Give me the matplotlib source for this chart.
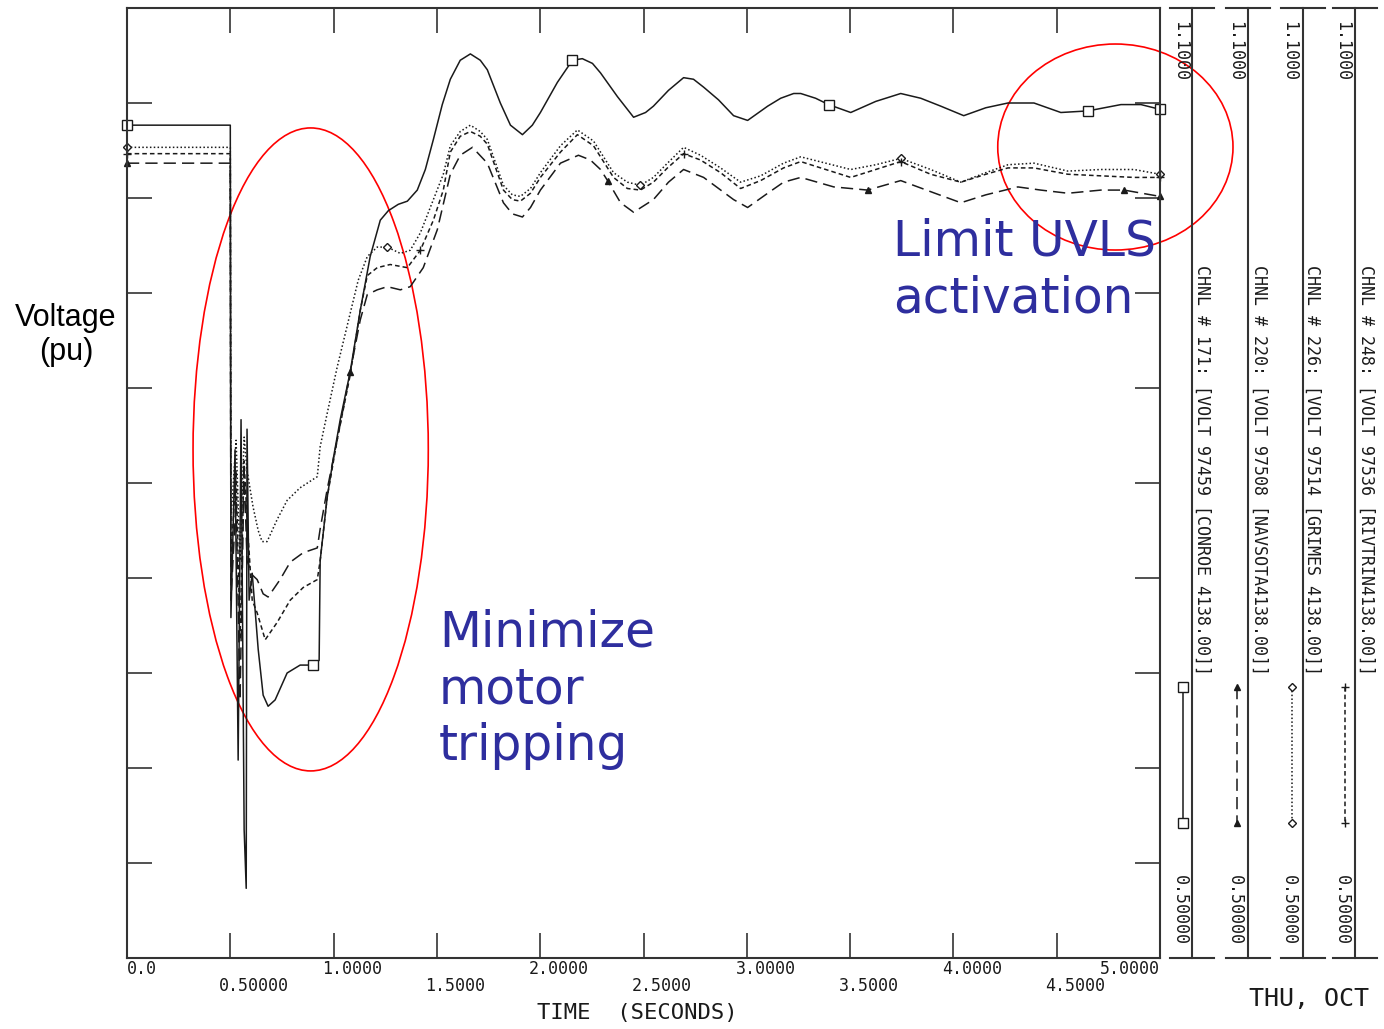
import numpy as np
import matplotlib
matplotlib.use('Agg')
from matplotlib import pyplot as plt
from matplotlib.patches import Ellipse

# CHNL 171 - CONROE (solid, squares)
t_conroe = [0.000, 0.500, 0.503, 0.523, 0.538, 0.552, 0.567, 0.577, 0.581, 0.591,
            0.606, 0.635, 0.659, 0.683, 0.717, 0.775, 0.838, 0.901, 0.930, 0.935,
            0.969, 0.998, 1.032, 1.080, 1.129, 1.177, 1.226, 1.265, 1.313, 1.357,
            1.405, 1.444, 1.483, 1.526, 1.565, 1.613, 1.662, 1.710, 1.744, 1.807,
            1.856, 1.914, 1.962, 2.001, 2.083, 2.156, 2.204, 2.253, 2.292, 2.374,
            2.452, 2.510, 2.548, 2.621, 2.694, 2.742, 2.791, 2.863, 2.936, 3.004,
            3.101, 3.164, 3.227, 3.261, 3.333, 3.396, 3.503, 3.624, 3.745, 3.842,
            3.939, 4.050, 4.157, 4.264, 4.390, 4.520, 4.651, 4.811, 4.908, 5.000]
v_conroe = [1.026, 1.026, 0.715, 0.821, 0.625, 0.840, 0.581, 0.544, 0.834, 0.726,
            0.743, 0.695, 0.666, 0.659, 0.663, 0.680, 0.685, 0.685, 0.688, 0.751,
            0.791, 0.815, 0.840, 0.870, 0.909, 0.943, 0.966, 0.972, 0.976, 0.978,
            0.985, 0.998, 1.017, 1.039, 1.055, 1.067, 1.071, 1.067, 1.061, 1.040,
            1.026, 1.020, 1.026, 1.034, 1.053, 1.067, 1.068, 1.065, 1.059, 1.044,
            1.031, 1.034, 1.038, 1.048, 1.056, 1.055, 1.050, 1.042, 1.032, 1.029,
            1.038, 1.043, 1.046, 1.046, 1.043, 1.039, 1.034, 1.041, 1.046, 1.043,
            1.038, 1.032, 1.037, 1.040, 1.040, 1.034, 1.035, 1.039, 1.039, 1.036]
mark_conroe = [0.0, 0.901, 2.156, 3.396, 4.651, 5.0]

# CHNL 220 - NAVSOTA (long dash, triangles)
t_navsota = [0.000, 0.500, 0.503, 0.528, 0.547, 0.567, 0.581, 0.606, 0.630, 0.659,
             0.683, 0.741, 0.790, 0.853, 0.921, 0.935, 0.969, 1.017, 1.080, 1.129,
             1.163, 1.211, 1.260, 1.323, 1.371, 1.434, 1.502, 1.565, 1.613, 1.672,
             1.744, 1.822, 1.865, 1.914, 1.953, 2.001, 2.098, 2.185, 2.243, 2.292,
             2.326, 2.389, 2.452, 2.548, 2.621, 2.694, 2.791, 2.936, 3.004, 3.101,
             3.178, 3.261, 3.421, 3.585, 3.745, 3.890, 4.036, 4.157, 4.312, 4.423,
             4.554, 4.714, 4.826, 5.000]
v_navsota = [1.002, 1.002, 0.726, 0.789, 0.663, 0.808, 0.751, 0.742, 0.739, 0.730,
             0.728, 0.739, 0.750, 0.756, 0.759, 0.771, 0.796, 0.827, 0.870, 0.903,
             0.919, 0.922, 0.924, 0.922, 0.924, 0.936, 0.960, 0.995, 1.007, 1.012,
             1.002, 0.977, 0.970, 0.968, 0.974, 0.985, 1.002, 1.007, 1.004, 0.998,
             0.991, 0.977, 0.971, 0.979, 0.990, 0.998, 0.993, 0.979, 0.974, 0.983,
             0.990, 0.993, 0.987, 0.985, 0.991, 0.984, 0.977, 0.982, 0.987, 0.985,
             0.983, 0.985, 0.985, 0.981]
mark_navsota = [0.0, 1.080, 2.326, 3.585, 4.826, 5.0]

# CHNL 226 - GRIMES (dotted, diamonds)
t_grimes = [0.000, 0.500, 0.503, 0.528, 0.547, 0.567, 0.581, 0.610, 0.635, 0.654,
            0.678, 0.727, 0.775, 0.838, 0.921, 0.935, 0.969, 1.017, 1.080, 1.119,
            1.163, 1.211, 1.260, 1.323, 1.371, 1.420, 1.483, 1.531, 1.565, 1.613,
            1.662, 1.710, 1.744, 1.822, 1.865, 1.904, 1.953, 2.001, 2.098, 2.180,
            2.258, 2.355, 2.422, 2.485, 2.548, 2.616, 2.694, 2.776, 2.873, 2.970,
            3.067, 3.178, 3.261, 3.382, 3.503, 3.624, 3.745, 3.890, 4.036, 4.157,
            4.264, 4.390, 4.554, 4.714, 4.874, 5.000]
v_grimes = [1.012, 1.012, 0.777, 0.827, 0.751, 0.829, 0.808, 0.785, 0.770, 0.763,
            0.763, 0.777, 0.789, 0.797, 0.804, 0.823, 0.844, 0.873, 0.907, 0.928,
            0.943, 0.949, 0.949, 0.945, 0.947, 0.958, 0.979, 0.995, 1.013, 1.022,
            1.026, 1.022, 1.017, 0.988, 0.982, 0.981, 0.986, 0.996, 1.013, 1.023,
            1.016, 0.996, 0.990, 0.988, 0.993, 1.002, 1.012, 1.007, 0.999, 0.990,
            0.994, 1.002, 1.006, 1.002, 0.998, 1.001, 1.005, 0.998, 0.990, 0.996,
            1.001, 1.002, 0.997, 0.998, 0.998, 0.995]
mark_grimes = [0.0, 1.260, 2.485, 3.745, 5.0]

# CHNL 248 - RIVTRIN (short dash, plus)
t_rivtrin = [0.000, 0.500, 0.503, 0.528, 0.547, 0.567, 0.581, 0.606, 0.630, 0.669,
             0.727, 0.790, 0.853, 0.921, 0.935, 0.969, 1.017, 1.080, 1.129, 1.163,
             1.211, 1.274, 1.357, 1.420, 1.483, 1.531, 1.565, 1.613, 1.662, 1.710,
             1.744, 1.822, 1.865, 1.904, 1.953, 2.001, 2.098, 2.180, 2.258, 2.355,
             2.422, 2.485, 2.548, 2.616, 2.694, 2.776, 2.873, 2.970, 3.067, 3.178,
             3.261, 3.382, 3.503, 3.624, 3.745, 3.890, 4.036, 4.157, 4.264, 4.390,
             4.554, 4.714, 4.874, 5.000]
v_rivtrin = [1.008, 1.008, 0.751, 0.808, 0.701, 0.814, 0.777, 0.726, 0.718, 0.701,
             0.712, 0.726, 0.734, 0.739, 0.751, 0.791, 0.827, 0.868, 0.909, 0.931,
             0.936, 0.938, 0.936, 0.947, 0.966, 0.985, 1.009, 1.019, 1.022, 1.019,
             1.014, 0.985, 0.979, 0.978, 0.983, 0.993, 1.009, 1.020, 1.013, 0.993,
             0.986, 0.985, 0.990, 0.999, 1.008, 1.004, 0.996, 0.986, 0.991, 0.999,
             1.003, 0.998, 0.993, 0.998, 1.003, 0.995, 0.990, 0.995, 0.999, 0.999,
             0.995, 0.994, 0.993, 0.993]
mark_rivtrin = [0.0, 1.420, 2.694, 3.745, 5.0]

channels = ['CHNL # 171: [VOLT 97459 [CONROE 4138.00]]',
            'CHNL # 220: [VOLT 97508 [NAVSOTA4138.00]]',
            'CHNL # 226: [VOLT 97514 [GRIMES 4138.00]]',
            'CHNL # 248: [VOLT 97536 [RIVTRIN4138.00]]']
xtick_vals = [0.0, 0.5, 1.0, 1.5, 2.0, 2.5, 3.0, 3.5, 4.0, 4.5, 5.0]
xtick_text = ['0.0', '0.50000', '1.0000', '1.5000', '2.0000', '2.5000',
              '3.0000', '3.5000', '4.0000', '4.5000', '5.0000']
ytick_vals = [0.56, 0.62, 0.68, 0.74, 0.80, 0.86, 0.92, 0.98, 1.04]

INK = '#1a1a1a'
BLUE = '#2e2e9e'
MONO = 'DejaVu Sans Mono'


def marks(t, at):
    t = np.array(t)
    return [int(np.argmin(np.abs(t - m))) for m in at]


def execute():
    fig = plt.figure(figsize=(13.84, 10.29), dpi=100)
    ax = fig.add_axes([127 / 1384, 71 / 1029, 1033 / 1384, 950 / 1029])

    styles = [
        (t_conroe, v_conroe, mark_conroe, '-', 's', 'white', 6.5),
        (t_navsota, v_navsota, mark_navsota, (0, (8, 4)), '^', INK, 5),
        (t_grimes, v_grimes, mark_grimes, (0, (1, 1.5)), 'D', 'white', 4.5),
        (t_rivtrin, v_rivtrin, mark_rivtrin, (0, (3, 2)), '+', INK, 6),
    ]
    for t, v, m, ls, mk, fc, ms in styles:
        ax.plot(t, v, color=INK, lw=1.1, ls=ls, marker=mk, mfc=fc, mec=INK,
                ms=ms, mew=1.0, markevery=marks(t, m), clip_on=False)

    ax.set_xlim(0, 5)
    ax.set_ylim(0.5, 1.1)
    ax.set_xticks(xtick_vals[1:-1])
    ax.set_yticks(ytick_vals)
    ax.tick_params(direction='in', length=18, width=1.2, color='#333',
                   top=True, right=True, labelbottom=False, labelleft=False)
    for s in ax.spines.values():
        s.set_color('#333')
        s.set_linewidth(1.5)

    # x labels in two rows, like the plotter output
    for i, (x, s) in enumerate(zip(xtick_vals, xtick_text)):
        yy = -0.0116 if i % 2 == 0 else -0.029
        if i == 0:
            xx, ha = x, 'left'
        elif i == len(xtick_vals) - 1:
            xx, ha = x, 'right'
        else:
            xx, ha = x - 0.055, 'left'
        ax.text(xx, yy, s, transform=ax.get_xaxis_transform(), ha=ha,
                va='center', fontsize=12, family=MONO, color=INK)
    ax.text(2.47, -0.058, 'TIME  (SECONDS)', transform=ax.get_xaxis_transform(),
            ha='center', va='center', fontsize=16, family=MONO, color=INK)
    ax.text(5.431, -0.0435, 'THU, OCT', transform=ax.get_xaxis_transform(),
            ha='left', va='center', fontsize=18, family=MONO, color=INK,
            clip_on=False)

    # annotations
    ax.add_patch(Ellipse((0.889, 0.8212), 1.1386, 0.4061, fill=False,
                         ec='red', lw=1.2, clip_on=False))
    ax.add_patch(Ellipse((4.784, 1.0122), 1.1386, 0.1301, fill=False,
                         ec='red', lw=1.2, clip_on=False))
    ax.text(3.71, 0.968, 'Limit UVLS\nactivation', color=BLUE, fontsize=35,
            family='DejaVu Sans', ha='left', va='top', linespacing=1.24)
    ax.text(1.51, 0.721, 'Minimize\nmotor\ntripping', color=BLUE, fontsize=35,
            family='DejaVu Sans', ha='left', va='top', linespacing=1.24)
    fig.text(66 / 1384, 1 - 335 / 1029, 'Voltage\n(pu)', ha='center',
             va='center', fontsize=22, family='Liberation Sans')

    # channel strips on the right
    side = fig.add_axes([1160 / 1384, 71 / 1029, 224 / 1384, 950 / 1029])
    side.set_xlim(1160, 1384)
    side.set_ylim(0.5, 1.1)
    side.axis('off')
    line_x = [1192, 1248, 1303, 1355]
    val_x = [1180, 1235, 1289, 1342]
    name_x = [1202, 1259, 1312, 1366]
    samp_x = [1183, 1237, 1292, 1345]
    for k, (t, v, m, ls, mk, fc, ms) in enumerate(styles):
        side.plot([line_x[k]] * 2, [0.5, 1.1], color='#333', lw=1.5, clip_on=False)
        for y in (0.5, 1.1):
            side.plot([line_x[k] - 22, line_x[k] + 22], [y, y], color='#333',
                      lw=1.5, clip_on=False)
        side.text(val_x[k], 1.092, '1.1000', rotation=-90, ha='center', va='top',
                  fontsize=12, family=MONO, color=INK)
        side.text(val_x[k], 0.508, '0.50000', rotation=-90, ha='center',
                  va='bottom', fontsize=12, family=MONO, color=INK)
        side.text(name_x[k], 0.938, channels[k], rotation=-90, ha='center',
                  va='top', fontsize=12, family=MONO, color=INK)
        side.plot([samp_x[k]] * 2, [0.671, 0.585], color=INK, lw=1.1, ls=ls,
                  marker=mk, mfc=fc, mec=INK, ms=ms, mew=1.0, clip_on=False)

    fig.savefig('out.png', dpi=100)


if __name__ == '__main__':
    execute()
